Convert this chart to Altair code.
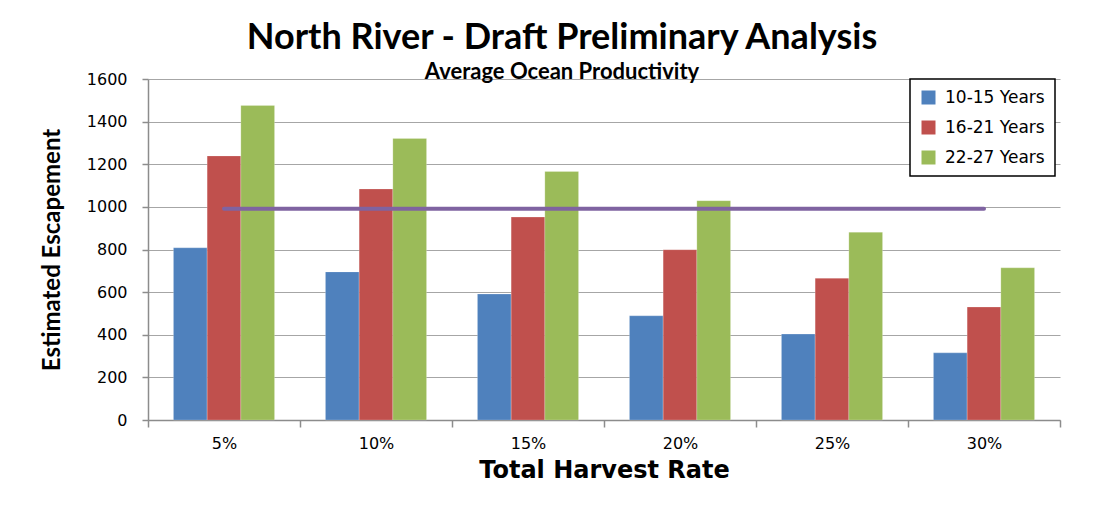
import altair as alt
import pandas as pd

rates = ["5%", "10%", "15%", "20%", "25%", "30%"]
series = ["10-15 Years", "16-21 Years", "22-27 Years"]
y10_15 = [808, 695, 591, 489, 403, 315]
y16_21 = [1239, 1084, 952, 799, 665, 530]
y22_27 = [1476, 1321, 1166, 1029, 881, 714]
target = [991, 991, 991, 991, 991, 991]
colors = ["#4f81bd", "#c0504d", "#9bbb59"]
y_ticks = [0, 200, 400, 600, 800, 1000, 1200, 1400, 1600]

rows = []
for name, vals in zip(series, [y10_15, y16_21, y22_27]):
    for r, v in zip(rates, vals):
        rows.append({"rate": r, "series": name, "value": v})
bars_df = pd.DataFrame(rows)
line_df = pd.DataFrame({"rate": rates, "target": target})

x_enc = alt.X(
    "rate:N",
    sort=rates,
    scale=alt.Scale(paddingInner=0, paddingOuter=0),
    axis=alt.Axis(
        title="Total Harvest Rate",
        labelAngle=0,
        grid=False,
        tickBand="extent",
        tickSize=7,
        labelPadding=8,
        titlePadding=7,
        titleFont="DejaVu Sans",
        titleFontSize=24,
        titleFontWeight="bold",
        labelFont="DejaVu Sans",
        labelFontSize=16,
    ),
)

bars = alt.Chart(bars_df).mark_bar(stroke="white", strokeOpacity=0.35, strokeWidth=0.6).encode(
    x=x_enc,
    xOffset=alt.XOffset("series:N", sort=series,
                        scale=alt.Scale(paddingInner=0, paddingOuter=0.755)),
    y=alt.Y(
        "value:Q",
        scale=alt.Scale(domain=[0, 1600], nice=False),
        axis=alt.Axis(
            title="Estimated Escapement",
            values=y_ticks,
            format="d",
            grid=True,
            tickSize=6,
            labelPadding=15,
            titlePadding=22,
            titleFont="Lato",
            titleFontSize=24,
            titleFontWeight="bold",
            labelFont="DejaVu Sans",
            labelFontSize=16,
        ),
    ),
    color=alt.Color(
        "series:N",
        sort=series,
        scale=alt.Scale(domain=series, range=colors),
        legend=alt.Legend(
            title=None,
            orient="none",
            legendX=762,
            legendY=0,
            fillColor="white",
            strokeColor="black",
            padding=10,
            rowPadding=12,
            symbolType="square",
            symbolSize=196,
            symbolStrokeWidth=0,
            labelFont="DejaVu Sans",
            labelFontSize=17,
            labelColor="black",
            labelOffset=8,
        ),
    ),
)

line = alt.Chart(line_df).mark_line(color="#7f63a1", strokeWidth=4, strokeCap="round").encode(
    x=alt.X("rate:N", sort=rates),
    y=alt.Y("target:Q"),
)

chart = (
    alt.layer(bars, line)
    .properties(
        width=912,
        height=341,
        padding={"left": 140, "top": 71, "right": 42, "bottom": 79},
        autosize=alt.AutoSizeParams(type="none"),
        title=alt.TitleParams(
            text="North River - Draft Preliminary Analysis",
            subtitle="Average Ocean Productivity",
            font="Lato",
            fontSize=36,
            fontWeight="bold",
            color="black",
            subtitleFont="Lato",
            subtitleFontSize=22,
            subtitleFontWeight="bold",
            subtitleColor="black",
            anchor="middle",
            dx=-42,
            offset=-13,
            subtitlePadding=5,
        ),
    )
    .configure_view(strokeWidth=0)
    .configure_axis(
        domainColor="#8c8c8c",
        domainWidth=1.5,
        tickColor="#8c8c8c",
        tickWidth=1.5,
        gridColor="#a6a6a6",
        gridWidth=1.2,
        labelColor="black",
        titleColor="black",
    )
    .configure_legend(strokeWidth=1.5, cornerRadius=0)
)

chart.save("out.html", embed_options={"renderer": "svg", "actions": False})
